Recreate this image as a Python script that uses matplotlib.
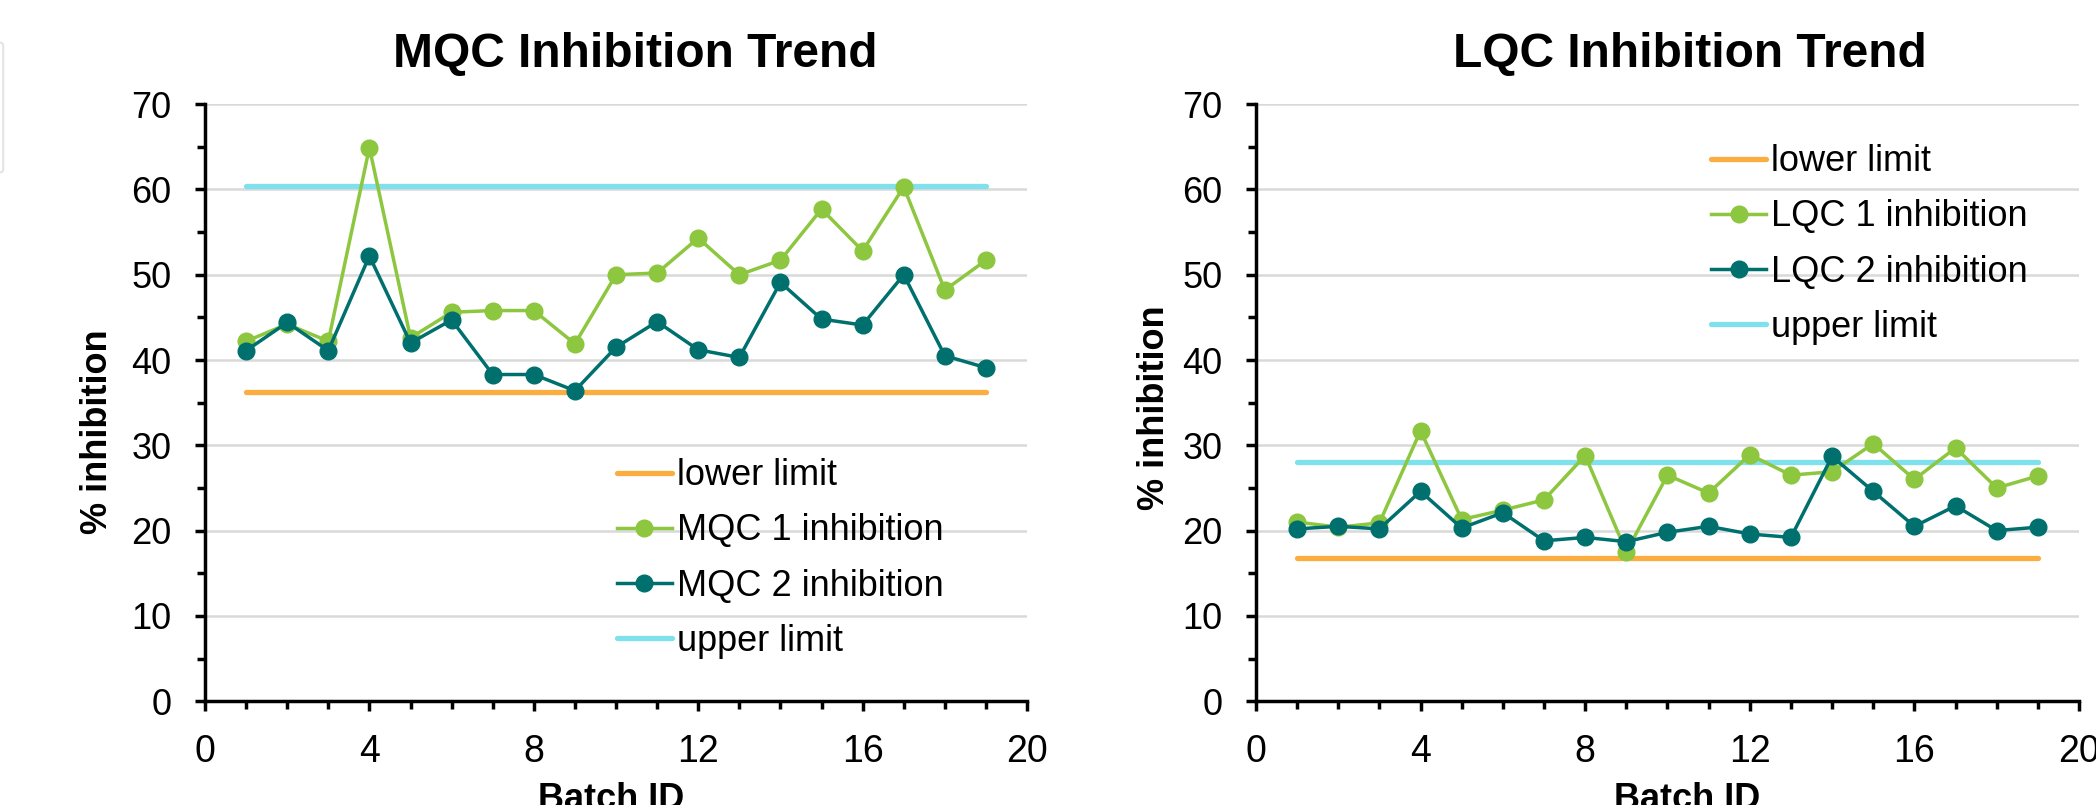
import numpy as np
import matplotlib.pyplot as plt
from matplotlib.patches import FancyBboxPatch
from matplotlib.ticker import MultipleLocator

plt.rcParams['font.family'] = ['Liberation Sans', 'DejaVu Sans']

batch = list(range(1, 20))

mqc1 = [42.2, 44.2, 42.2, 64.9, 42.6, 45.6, 45.8, 45.8, 41.9, 50.0,
        50.2, 54.3, 50.0, 51.7, 57.7, 52.8, 60.3, 48.2, 51.7]
mqc2 = [41.1, 44.4, 41.1, 52.2, 42.0, 44.7, 38.3, 38.3, 36.4, 41.5,
        44.5, 41.2, 40.3, 49.1, 44.8, 44.1, 50.0, 40.5, 39.1]
mqc_lower = 36.2
mqc_upper = 60.4

lqc1 = [21.0, 20.4, 20.9, 31.7, 21.3, 22.4, 23.6, 28.8, 17.5, 26.5,
        24.4, 28.9, 26.5, 26.9, 30.2, 26.0, 29.7, 25.0, 26.4]
lqc2 = [20.2, 20.5, 20.2, 24.6, 20.3, 22.1, 18.8, 19.2, 18.7, 19.8,
        20.5, 19.6, 19.2, 28.7, 24.6, 20.5, 22.9, 20.0, 20.4]
lqc_lower = 16.8
lqc_upper = 28.0

c_green = '#8DC63F'
c_teal = '#00706F'
c_orange = '#FBAE3F'
c_cyan = '#80E1EE'

fig = plt.figure(figsize=(20.96, 8.05), dpi=100)

# faint rounded box peeking in at the left edge
fig.patches.append(FancyBboxPatch((-0.05, 0.785), 0.0515, 0.163, boxstyle='round,pad=0,rounding_size=0.004',
                                  transform=fig.transFigure, fc='none', ec='#E4E4E4', lw=1.5))


def draw_panel(rect, s1, s2, lo, hi, name, title, tx, ylx, yly, xlx, leg_xy):
    ax = fig.add_axes(rect)
    xs = np.array(batch)
    ax.plot([xs[0], xs[-1]], [lo, lo], color=c_orange, lw=3.8, solid_capstyle='round', label='lower limit', zorder=3)
    ax.plot(xs, s1, color=c_green, lw=2.5, marker='o', ms=12, label=name + ' 1 inhibition', zorder=4)
    ax.plot(xs, s2, color=c_teal, lw=2.5, marker='o', ms=12, label=name + ' 2 inhibition', zorder=5)
    ax.plot([xs[0], xs[-1]], [hi, hi], color=c_cyan, lw=3.8, solid_capstyle='round', label='upper limit', zorder=3)

    ax.set_xlim(0, 20)
    ax.set_ylim(0, 70)
    ax.xaxis.set_major_locator(MultipleLocator(4))
    ax.xaxis.set_minor_locator(MultipleLocator(1))
    ax.yaxis.set_major_locator(MultipleLocator(10))
    ax.yaxis.set_minor_locator(MultipleLocator(5))
    ax.grid(axis='y', which='major', color='#D9D9D9', lw=1.8, zorder=0)
    ax.set_axisbelow(True)
    for s in ['top', 'right']:
        ax.spines[s].set_visible(False)
    for s in ['left', 'bottom']:
        ax.spines[s].set_linewidth(2.5)
        ax.spines[s].set_zorder(6)
    ax.tick_params(axis='both', which='both', direction='out', width=2.5, color='black')
    ax.tick_params(axis='both', which='major', length=7)
    ax.tick_params(axis='both', which='minor', length=6)
    ax.tick_params(axis='y', which='major', labelsize=26, pad=17)
    ax.tick_params(axis='x', which='major', labelsize=27, pad=17)

    ax.legend(loc='upper left', bbox_to_anchor=leg_xy, frameon=False, fontsize=26,
              handlelength=1.52, handletextpad=0.14, labelspacing=0.56,
              borderpad=0, borderaxespad=0)

    fig.text(tx, 0.932, title, ha='center', va='center', fontsize=34.5, fontweight='bold')
    fig.text(ylx, yly, '% inhibition', ha='center', va='center', rotation=90, fontsize=26, fontweight='bold')
    fig.text(xlx, 0.029, 'Batch ID', ha='center', va='top', fontsize=26, fontweight='bold')
    return ax


draw_panel([0.0978, 0.129, 0.3922, 0.7416], mqc1, mqc2, mqc_lower, mqc_upper, 'MQC',
           'MQC Inhibition Trend', 0.303, 0.0463, 0.4634, 0.2915, (0.501, 0.407))
draw_panel([0.5992, 0.129, 0.3927, 0.7416], lqc1, lqc2, lqc_lower, lqc_upper, 'LQC',
           'LQC Inhibition Trend', 0.806, 0.551, 0.494, 0.805, (0.553, 0.933))

fig.savefig('out.png', dpi=100)
